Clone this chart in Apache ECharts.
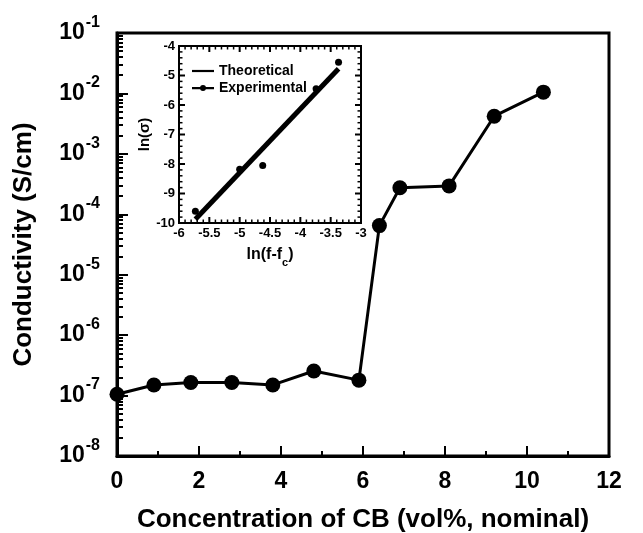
<!DOCTYPE html>
<html>
<head>
<meta charset="utf-8">
<script src="https://cdn.jsdelivr.net/npm/echarts@6/dist/echarts.min.js"></script>
<style>html,body{margin:0;padding:0;background:#fff;}#c{width:643px;height:533px;}</style>
</head>
<body>
<div id="c"></div>
<script>
// Main chart data
var concentration = [0, 0.9, 1.8, 2.8, 3.8, 4.8, 5.9, 6.4, 6.9, 8.1, 9.2, 10.4];
var conductivity = [1.05e-7, 1.5e-7, 1.65e-7, 1.65e-7, 1.5e-7, 2.55e-7, 1.8e-7, 6.5e-5, 2.75e-4, 2.95e-4, 4.2e-3, 1.05e-2];
// Inset data
var lnF = [-5.73, -5.0, -4.62, -3.74, -3.37];
var lnSigma = [-9.6, -8.18, -8.05, -5.45, -4.55];
var fitX = [-5.73, -3.37];
var fitY = [-9.87, -4.77];
// Minor tick values for the main log axis
var logMinor = [];
for (var e = -8; e < -1; e++) { for (var m = 2; m <= 9; m++) { logMinor.push(m * Math.pow(10, e)); } }
// Inset tick values (x every 0.1, major every 0.5; y every 0.2, major every 1)
var insetTicks = [];
for (var i = -59; i <= -31; i++) insetTicks.push([i / 10, -10, (i % 5 === 0) ? 6 : 3.5, 0]);
for (var j = -49; j <= -21; j++) insetTicks.push([-6, j / 5, (j % 5 === 0) ? 6 : 3.5, 1]);

var FONT = '"Liberation Sans", Arial, sans-serif';
var chart = echarts.init(document.getElementById('c'));

function pairs(xs, ys) { return xs.map(function (x, i) { return [x, ys[i]]; }); }

function renderInsetTick(params, api) {
  var v0 = api.value(0), v1 = api.value(1), len = api.value(2), o = api.value(3);
  var w = len > 5 ? 2 : 1.5;
  var style = { stroke: '#000', lineWidth: w };
  var a, b;
  if (o === 0) {
    a = api.coord([v0, -10]); b = api.coord([v0, -4]);
    return { type: 'group', children: [
      { type: 'line', shape: { x1: a[0], y1: a[1], x2: a[0], y2: a[1] - len }, style: style },
      { type: 'line', shape: { x1: b[0], y1: b[1], x2: b[0], y2: b[1] + len }, style: style }
    ] };
  }
  a = api.coord([-6, v1]); b = api.coord([-3, v1]);
  return { type: 'group', children: [
    { type: 'line', shape: { x1: a[0], y1: a[1], x2: a[0] + len, y2: a[1] }, style: style },
    { type: 'line', shape: { x1: b[0], y1: b[1], x2: b[0] - len, y2: b[1] }, style: style }
  ] };
}

var option = {
  backgroundColor: '#fff',
  animation: false,
  textStyle: { fontFamily: FONT, fontWeight: 'bold', color: '#000' },
  grid: [
    { left: 117, right: 34, top: 33, bottom: 77, show: true, borderColor: '#000', borderWidth: 3, containLabel: false, outerBoundsMode: 'none' },
    { left: 179, top: 46, width: 182, height: 177, show: true, borderColor: '#000', borderWidth: 2, containLabel: false, outerBoundsMode: 'none' }
  ],
  legend: {
    orient: 'vertical', left: 187, top: 59, itemGap: 3, itemWidth: 22, itemHeight: 8,
    textStyle: { fontFamily: FONT, fontWeight: 'bold', fontSize: 14, color: '#000' },
    data: [
      { name: 'Theoretical', icon: 'path://M0,3 L22,3 L22,5.2 L0,5.2 Z' },
      { name: 'Experimental', icon: 'path://M0,3 L22,3 L22,5.2 L0,5.2 Z M11,1 A3,3 0 1,1 11,7 A3,3 0 1,1 11,1 Z' }
    ],
    itemStyle: { color: '#000', opacity: 1 }
  },
  xAxis: [
    {
      gridIndex: 0, type: 'value', min: 0, max: 12, interval: 2,
      axisLine: { show: true, lineStyle: { color: '#000', width: 3 } },
      axisTick: { show: true, inside: true, length: 10, lineStyle: { color: '#000', width: 2 } },
      minorTick: { show: true, splitNumber: 2, length: 5, lineStyle: { color: '#000', width: 2 } },
      splitLine: { show: false },
      axisLabel: { fontFamily: FONT, fontWeight: 'bold', fontSize: 23, color: '#000', margin: 14 },
      name: 'Concentration of CB (vol%, nominal)', nameLocation: 'middle', nameGap: 51,
      nameTextStyle: { fontFamily: FONT, fontWeight: 'bold', fontSize: 26, color: '#000' }
    },
    {
      gridIndex: 1, type: 'value', min: -6, max: -3, interval: 0.5,
      axisLine: { show: true, onZero: false, lineStyle: { color: '#000', width: 2 } },
      axisTick: { show: false }, splitLine: { show: false },
      axisLabel: { fontFamily: FONT, fontWeight: 'bold', fontSize: 13, color: '#000', margin: 4 },
      name: '{a|ln(f-f}{s|c}{a|)}', nameLocation: 'middle', nameGap: 24,
      nameTextStyle: { rich: {
        a: { fontFamily: FONT, fontWeight: 'bold', fontSize: 16, color: '#000', verticalAlign: 'top', lineHeight: 19 },
        s: { fontFamily: FONT, fontWeight: 'bold', fontSize: 11, color: '#000', verticalAlign: 'top', lineHeight: 19, padding: [10, 0, 0, 0] }
      } }
    }
  ],
  yAxis: [
    {
      gridIndex: 0, type: 'log', logBase: 10, min: 1e-8, max: 1e-1,
      axisLine: { show: true, lineStyle: { color: '#000', width: 3 } },
      axisTick: { show: true, inside: true, length: 11, lineStyle: { color: '#000', width: 2 } },
      splitLine: { show: false },
      axisLabel: {
        margin: 17,
        formatter: function (v) { return '{b|10}{s|' + Math.round(Math.log10(v)) + '}'; },
        rich: {
          b: { fontFamily: FONT, fontWeight: 'bold', fontSize: 23, color: '#000', lineHeight: 23, verticalAlign: 'bottom' },
          s: { fontFamily: FONT, fontWeight: 'bold', fontSize: 16, color: '#000', lineHeight: 16, verticalAlign: 'bottom', padding: [0, 0, 14, 1] }
        }
      },
      name: 'Conductivity (S/cm)', nameLocation: 'middle', nameGap: 80, nameRotate: 90,
      nameTextStyle: { fontFamily: FONT, fontWeight: 'bold', fontSize: 26, color: '#000' }
    },
    {
      gridIndex: 0, type: 'log', logBase: 10, min: 1e-8, max: 1e-1, position: 'left',
      axisLine: { show: false },
      axisTick: { show: true, inside: true, length: 6, customValues: logMinor, lineStyle: { color: '#000', width: 2 } },
      axisLabel: { show: false }, splitLine: { show: false }
    },
    {
      gridIndex: 1, type: 'value', min: -10, max: -4, interval: 1,
      axisLine: { show: true, onZero: false, lineStyle: { color: '#000', width: 2 } },
      axisTick: { show: false }, splitLine: { show: false },
      axisLabel: { fontFamily: FONT, fontWeight: 'bold', fontSize: 13, color: '#000', margin: 4 },
      name: 'ln(σ)', nameLocation: 'middle', nameGap: 27, nameRotate: 90,
      nameTextStyle: { fontFamily: FONT, fontWeight: 'bold', fontSize: 15, color: '#000' }
    }
  ],
  series: [
    {
      name: 'Conductivity', type: 'line', xAxisIndex: 0, yAxisIndex: 0,
      data: pairs(concentration, conductivity),
      symbol: 'circle', symbolSize: 15, showSymbol: true,
      lineStyle: { color: '#000', width: 3 }, itemStyle: { color: '#000', opacity: 1 }
    },
    {
      name: 'insetTicks', type: 'custom', xAxisIndex: 1, yAxisIndex: 2,
      data: insetTicks, encode: { x: 0, y: 1 }, renderItem: renderInsetTick,
      silent: true, clip: false, z: 3
    },
    {
      name: 'Theoretical', type: 'line', xAxisIndex: 1, yAxisIndex: 2,
      data: pairs(fitX, fitY), symbol: 'none',
      lineStyle: { color: '#000', width: 5 }, itemStyle: { color: '#000' }
    },
    {
      name: 'Experimental', type: 'scatter', xAxisIndex: 1, yAxisIndex: 2,
      data: pairs(lnF, lnSigma), symbol: 'circle', symbolSize: 7,
      itemStyle: { color: '#000', opacity: 1 }
    }
  ]
};
chart.setOption(option);
</script>
</body>
</html>
